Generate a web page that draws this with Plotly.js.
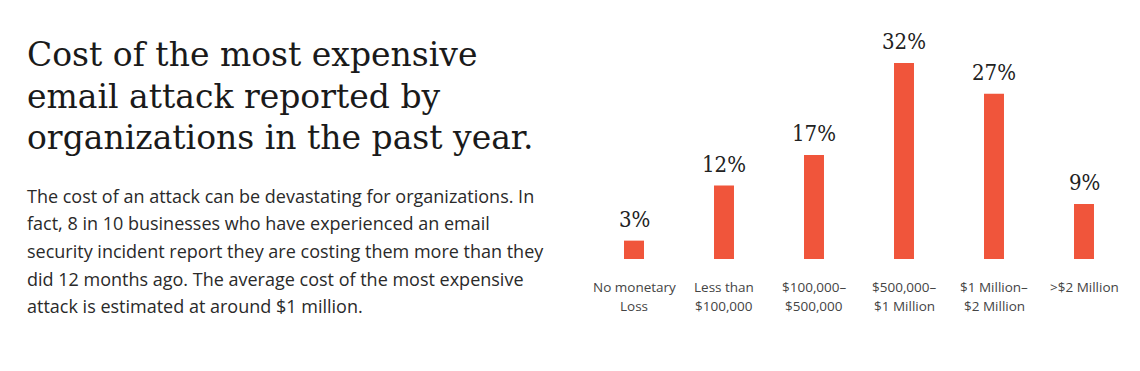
<!DOCTYPE html>
<html>
<head>
<meta charset="utf-8">
<script src="https://cdn.plot.ly/plotly-3.0.1.min.js"></script>
<style>html,body{margin:0;padding:0;background:#fff;}#chart{width:1140px;height:371px;}</style>
</head>
<body>
<div id="chart"></div>
<script>
// ---- data ----
const categories = ["No monetary Loss", "Less than $100,000", "$100,000–$500,000", "$500,000–$1 Million", "$1 Million–$2 Million", ">$2 Million"];
const tickLine1 = ["No monetary", "Less than", "$100,000–", "$500,000–", "$1 Million–", ">$2 Million"];
const tickLine2 = ["Loss", "$100,000", "$500,000", "$1 Million", "$2 Million", ""];
const values = [3, 12, 17, 32, 27, 9];
const valueLabels = ["3%", "12%", "17%", "32%", "27%", "9%"];
const titleLines = ["Cost of the most expensive", "email attack reported by", "organizations in the past year."];
const bodyLines = [
  "The cost of an attack can be devastating for organizations. In",
  "fact, 8 in 10 businesses who have experienced an email",
  "security incident report they are costing them more than they",
  "did 12 months ago. The average cost of the most expensive",
  "attack is estimated at around $1 million."
];

// ---- layout helpers ----
const W = 1140, H = 371, T = 14, B = 112;
const plotH = H - T - B;
const py = p => (H - B - p) / plotH;   // pixel y -> paper y
const px = p => p / W;                  // pixel x -> paper x

const serifC = '"DejaVu Serif Condensed", "DejaVu Serif", serif';
const serif = '"DejaVu Serif", serif';
const sans = '"Open Sans", Lato, sans-serif';

const annotations = [];
values.forEach((v, i) => {
  annotations.push({
    x: categories[i], y: v, xref: 'x', yref: 'y',
    text: valueLabels[i], showarrow: false, yanchor: 'bottom', yshift: 7,
    font: {family: serifC, size: 22, color: '#222'}
  });
  annotations.push({
    x: categories[i], y: 0, xref: 'x', yref: 'paper',
    text: tickLine1[i], showarrow: false, yanchor: 'middle', yshift: -28,
    font: {family: sans, size: 13.5, color: '#444'}
  });
  if (tickLine2[i]) annotations.push({
    x: categories[i], y: 0, xref: 'x', yref: 'paper',
    text: tickLine2[i], showarrow: false, yanchor: 'middle', yshift: -47,
    font: {family: sans, size: 13.5, color: '#444'}
  });
});
const titleCenters = [54.5, 96, 137.5];
titleLines.forEach((t, i) => annotations.push({
  x: px(25), y: py(titleCenters[i]), xref: 'paper', yref: 'paper',
  text: t, showarrow: false, xanchor: 'left', yanchor: 'middle',
  font: {family: serif, size: 33, color: '#1a1a1a'}
}));
const bodyCenters = [195.5, 223, 251, 278.5, 306];
bodyLines.forEach((t, i) => annotations.push({
  x: px(25), y: py(bodyCenters[i]), xref: 'paper', yref: 'paper',
  text: t, showarrow: false, xanchor: 'left', yanchor: 'middle',
  font: {family: sans, size: 18, color: '#2a2a2a'}
}));

const trace = {
  type: 'bar', x: categories, y: values,
  marker: {color: '#F0553B'}, hoverinfo: 'none'
};

const layout = {
  width: W, height: H,
  margin: {l: 0, r: 0, t: T, b: B},
  paper_bgcolor: '#fff', plot_bgcolor: '#fff',
  showlegend: false,
  bargap: 0.778,
  xaxis: {domain: [589 / W, 1129 / W], showticklabels: false, showgrid: false, zeroline: false, showline: false, ticks: '', fixedrange: true},
  yaxis: {range: [0, 40], visible: false, showgrid: false, zeroline: false, fixedrange: true},
  annotations: annotations
};

Plotly.newPlot('chart', [trace], layout, {displayModeBar: false, staticPlot: true});
</script>
</body>
</html>
